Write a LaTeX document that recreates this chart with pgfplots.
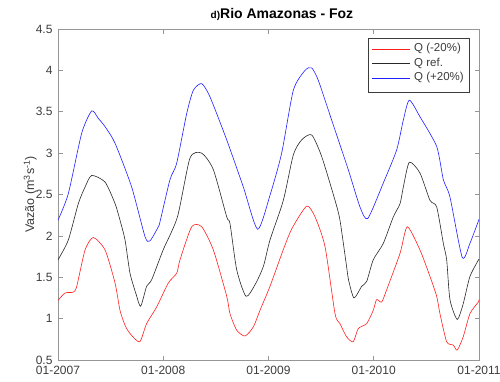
\documentclass[border=0pt]{standalone}
\usepackage{pgfplots}
\pgfplotsset{compat=1.18}
\usepackage{fontspec}
\setmainfont{Liberation Sans}

\definecolor{axgray}{RGB}{150,150,150}
\definecolor{txtgray}{RGB}{60,60,60}
\definecolor{qlow}{RGB}{255,30,30}
\definecolor{qref}{RGB}{40,40,40}
\definecolor{qhigh}{RGB}{30,30,255}

\begin{document}
\begin{tikzpicture}
\begin{axis}[
  scale only axis,
  width=421pt, height=331pt,
  xmin=0, xmax=4, ymin=0.5, ymax=4.5,
  xtick={0,1,2,3,4},
  xticklabels={01-2007,01-2008,01-2009,01-2010,01-2011},
  ytick={0.5,1,1.5,2,2.5,3,3.5,4,4.5},
  yticklabels={0.5,1,1.5,2,2.5,3,3.5,4,4.5},
  tick pos=both,
  tick align=inside,
  major tick length=4.5pt,
  axis line style={axgray, line width=0.7pt},
  every tick/.style={axgray, line width=0.6pt},
  every tick label/.append style={font=\fontsize{12}{14}\selectfont, text=txtgray},
  /pgf/number format/assume math mode=true,
  yticklabel style={xshift=-2pt},
  xticklabel style={yshift=-3pt},
  ylabel={Vazão (m\textsuperscript{3}s\textsuperscript{-1})},
  ylabel style={font=\fontsize{12.5}{14}\selectfont, text=txtgray,
    at={(axis description cs:-0.066,0.5)}, anchor=center, rotate=0},
  title={{\fontsize{10}{12}\selectfont\bfseries d)}{\fontsize{14}{16}\selectfont\bfseries Rio Amazonas - Foz}},
  title style={at={(axis description cs:0.532,1.015)}, anchor=base, inner sep=0pt},
]
% Q (-20%)
\addplot[qlow, line width=0.6pt, smooth, tension=0.4] coordinates {
(0.000,1.22) (0.067,1.31) (0.145,1.32) (0.178,1.39) (0.257,1.83) (0.335,1.98)
(0.447,1.83) (0.542,1.43) (0.589,1.10) (0.637,0.92) (0.684,0.82) (0.776,0.72)
(0.842,0.94) (0.937,1.14) (1.048,1.43) (1.128,1.55) (1.159,1.71) (1.270,2.11)
(1.365,2.11) (1.476,1.83) (1.603,1.27) (1.634,1.06) (1.698,0.86) (1.777,0.79)
(1.856,0.90) (1.919,1.10) (2.014,1.39) (2.125,1.78) (2.188,1.99) (2.236,2.12)
(2.363,2.36) (2.442,2.23) (2.537,1.87) (2.632,1.06) (2.679,0.94) (2.742,0.78)
(2.805,0.72) (2.853,0.88) (2.933,0.94) (2.995,1.10) (3.027,1.23) (3.075,1.20)
(3.123,1.35) (3.250,1.79) (3.319,2.11) (3.439,1.83) (3.534,1.51) (3.598,1.27)
(3.629,1.06) (3.693,0.72) (3.756,0.68) (3.793,0.62) (3.850,0.78) (3.914,1.06)
(3.993,1.20) (4.000,1.23)
};
% Q ref.
\addplot[qref, line width=0.6pt, smooth, tension=0.4] coordinates {
(0.000,1.71) (0.098,1.95) (0.193,2.39) (0.257,2.59) (0.320,2.73) (0.447,2.65)
(0.542,2.39) (0.589,2.19) (0.637,1.95) (0.684,1.55) (0.741,1.30) (0.785,1.15)
(0.842,1.39) (0.890,1.47) (0.999,1.83) (1.135,2.23) (1.254,2.94) (1.365,3.00)
(1.476,2.80) (1.603,2.23) (1.634,2.15) (1.698,1.59) (1.786,1.27) (1.872,1.41)
(1.951,1.63) (2.014,1.95) (2.141,2.43) (2.236,2.98) (2.315,3.16) (2.410,3.22)
(2.505,2.96) (2.632,2.43) (2.679,2.19) (2.743,1.62) (2.760,1.47) (2.812,1.25)
(2.885,1.39) (2.933,1.45) (2.995,1.71) (3.091,1.91) (3.186,2.23) (3.250,2.39)
(3.281,2.59) (3.338,2.89) (3.439,2.76) (3.534,2.43) (3.598,2.35) (3.661,1.91)
(3.693,1.71) (3.724,1.23) (3.793,0.99) (3.850,1.18) (3.914,1.51) (4.000,1.72)
};
% Q (+20%)
\addplot[qhigh, line width=0.6pt, smooth, tension=0.4] coordinates {
(0.000,2.19) (0.098,2.51) (0.225,3.24) (0.320,3.51) (0.383,3.42) (0.447,3.32)
(0.542,3.12) (0.700,2.59) (0.827,1.99) (0.874,1.94) (0.953,2.11) (0.969,2.17)
(1.064,2.68) (1.128,2.88) (1.223,3.48) (1.286,3.76) (1.365,3.84) (1.444,3.68)
(1.603,3.16) (1.761,2.59) (1.897,2.08) (2.014,2.49) (2.125,3.00) (2.236,3.76)
(2.347,4.00) (2.410,4.03) (2.473,3.88) (2.600,3.40) (2.758,2.80) (2.869,2.35)
(2.943,2.21) (3.091,2.64) (3.218,3.04) (3.281,3.40) (3.338,3.64) (3.439,3.44)
(3.598,3.08) (3.661,2.68) (3.724,2.47) (3.841,1.74) (3.914,1.91) (4.000,2.20)
};
% legend box, line samples and entries
\draw[txtgray, fill=white, line width=0.5pt]
  (axis description cs:0.7363,0.8097) rectangle (axis description cs:0.9762,0.9728);
\draw[qlow, line width=0.6pt] (axis description cs:0.7458,0.9396) -- (axis description cs:0.8361,0.9396);
\draw[qref, line width=0.6pt] (axis description cs:0.7458,0.8973) -- (axis description cs:0.8361,0.8973);
\draw[qhigh, line width=0.6pt] (axis description cs:0.7458,0.8520) -- (axis description cs:0.8361,0.8520);
\begin{scope}[every node/.style={anchor=west, inner sep=0pt, text=txtgray, font=\fontsize{11.5}{13}\selectfont}]
  \node at (axis description cs:0.8456,0.9396) {Q (-20\%)};
  \node at (axis description cs:0.8456,0.8973) {Q ref.};
  \node at (axis description cs:0.8456,0.8520) {Q (+20\%)};
\end{scope}
\node[anchor=base west, inner sep=0pt, text=txtgray, font=\fontsize{12}{14}\selectfont]
  at (axis description cs:0.0,1.012) {×10\raisebox{0.55ex}{\fontsize{9}{10}\selectfont 5}};
\end{axis}
\pgfresetboundingbox
\path[use as bounding box] (-58pt,-21pt) rectangle (442pt,360pt);
\end{tikzpicture}
\end{document}
